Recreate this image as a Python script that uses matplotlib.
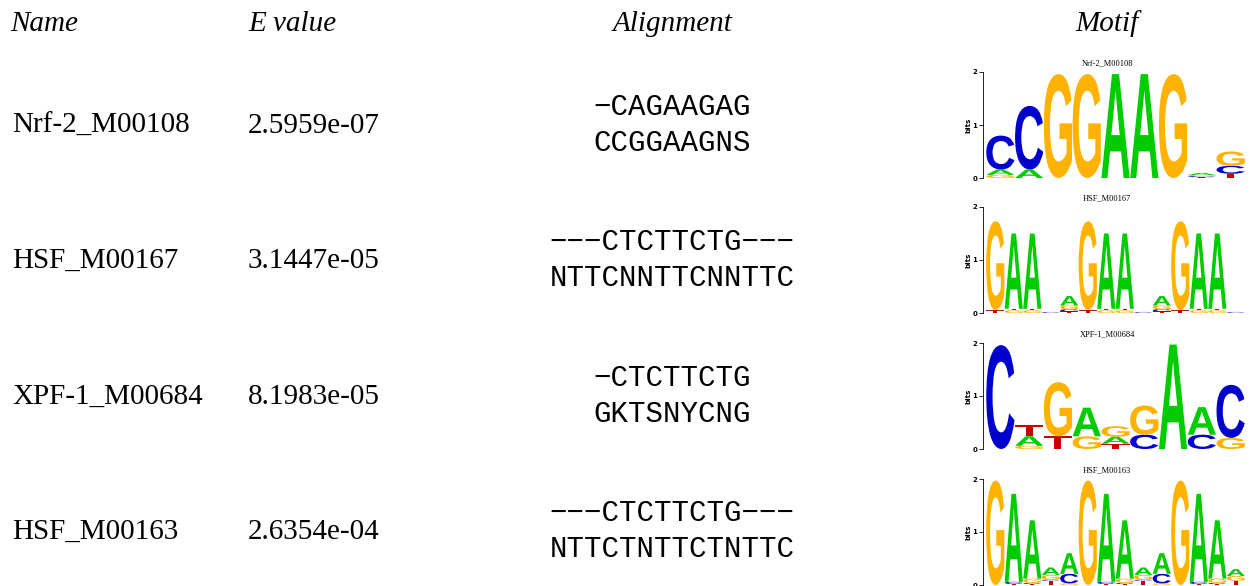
import matplotlib
matplotlib.use("Agg")
import matplotlib.pyplot as plt
from matplotlib.textpath import TextPath
from matplotlib.patches import PathPatch
from matplotlib.transforms import Affine2D
from matplotlib.font_manager import FontProperties

# table contents
headers = ["Name", "E value", "Alignment", "Motif"]
names = ["Nrf-2_M00108", "HSF_M00167", "XPF-1_M00684", "HSF_M00163"]
evalues = ["2.5959e-07", "3.1447e-05", "8.1983e-05", "2.6354e-04"]
query_aln = ["\u2212CAGAAGAG", "\u2212\u2212\u2212CTCTTCTG\u2212\u2212\u2212",
             "\u2212CTCTTCTG", "\u2212\u2212\u2212CTCTTCTG\u2212\u2212\u2212"]
target_aln = ["CCGGAAGNS", "NTTCNNTTCNNTTC", "GKTSNYCNG", "NTTCTNTTCTNTTC"]

# sequence logos: one list per position, letters bottom -> top with height in bits
nrf2_logo = [
    [("G", 0.06), ("A", 0.10), ("C", 0.64)],
    [("A", 0.16), ("C", 1.20)],
    [("G", 1.96)],
    [("G", 1.96)],
    [("A", 1.96)],
    [("A", 1.96)],
    [("G", 1.96)],
    [("T", 0.015), ("C", 0.02), ("G", 0.02), ("A", 0.04)],
    [("T", 0.08), ("C", 0.15), ("G", 0.27)],
]
hsf167_logo = [
    [("T", 0.05), ("A", 0.01), ("G", 1.67)],
    [("G", 0.05), ("T", 0.03), ("A", 1.42)],
    [("G", 0.05), ("T", 0.03), ("A", 1.42)],
    [("T", 0.005), ("C", 0.015)],
    [("T", 0.03), ("C", 0.04), ("G", 0.07), ("A", 0.18)],
    [("T", 0.05), ("A", 0.01), ("G", 1.67)],
    [("G", 0.05), ("T", 0.03), ("A", 1.42)],
    [("G", 0.05), ("T", 0.03), ("A", 1.42)],
    [("T", 0.005), ("C", 0.015)],
    [("T", 0.03), ("C", 0.04), ("G", 0.07), ("A", 0.18)],
    [("T", 0.05), ("A", 0.01), ("G", 1.67)],
    [("G", 0.05), ("T", 0.03), ("A", 1.42)],
    [("G", 0.05), ("T", 0.03), ("A", 1.42)],
    [("T", 0.005), ("C", 0.015)],
]
xpf1_logo = [
    [("C", 1.96)],
    [("G", 0.06), ("A", 0.18), ("T", 0.21)],
    [("T", 0.24), ("G", 1.02)],
    [("G", 0.24), ("A", 0.54)],
    [("T", 0.10), ("A", 0.13), ("G", 0.20)],
    [("C", 0.27), ("G", 0.55)],
    [("A", 1.97)],
    [("C", 0.27), ("A", 0.52)],
    [("G", 0.21), ("C", 1.00)],
]
hsf163_logo = [
    [("G", 1.97)],
    [("T", 0.02), ("C", 0.04), ("A", 1.66)],
    [("T", 0.02), ("C", 0.02), ("G", 0.08), ("A", 1.10)],
    [("T", 0.08), ("C", 0.02), ("G", 0.09), ("A", 0.14)],
    [("G", 0.03), ("C", 0.18), ("A", 0.39)],
    [("G", 1.97)],
    [("T", 0.02), ("C", 0.04), ("A", 1.66)],
    [("T", 0.02), ("C", 0.02), ("G", 0.08), ("A", 1.10)],
    [("T", 0.08), ("C", 0.02), ("G", 0.09), ("A", 0.14)],
    [("G", 0.03), ("C", 0.18), ("A", 0.39)],
    [("G", 1.97)],
    [("T", 0.02), ("C", 0.04), ("A", 1.66)],
    [("T", 0.02), ("C", 0.02), ("G", 0.08), ("A", 1.10)],
    [("T", 0.08), ("G", 0.09), ("A", 0.13)],
]
logos = [nrf2_logo, hsf167_logo, xpf1_logo, hsf163_logo]

base_colors = {"A": "#00cc00", "C": "#0000cc", "G": "#ffb300", "T": "#cc0000"}
letter_font = FontProperties(family="Liberation Sans", weight="bold")

W, H = 1255, 586
fig = plt.figure(figsize=(W / 100, H / 100), dpi=100)


def fx(px):
    return px / W


def fy(py):
    return 1 - py / H


def draw_letter(ax, ch, x0, y0, w, h):
    tp = TextPath((0, 0), ch, size=1, prop=letter_font)
    bb = tp.get_extents()
    t = Affine2D().translate(-bb.x0, -bb.y0).scale(w / bb.width, h / bb.height).translate(x0, y0)
    ax.add_patch(PathPatch(t.transform_path(tp), fc=base_colors[ch], ec="none", lw=0, clip_on=False))


serif = ["Liberation Serif", "DejaVu Serif"]
mono = ["Liberation Mono", "DejaVu Sans Mono"]

# header row
fig.text(fx(10), fy(31), headers[0], family=serif, style="italic", fontsize=21, va="baseline")
fig.text(fx(248), fy(31), headers[1], family=serif, style="italic", fontsize=21, va="baseline")
fig.text(fx(673), fy(31), headers[2], family=serif, style="italic", fontsize=21, va="baseline", ha="center")
fig.text(fx(1107), fy(31), headers[3], family=serif, style="italic", fontsize=21, va="baseline", ha="center")

line1 = [115, 250, 386, 521]
logo_top = [72, 207, 343, 479]

for i in range(4):
    b = line1[i]
    fig.text(fx(12), fy(b + 18), names[i], family=serif, fontsize=21, va="baseline")
    fig.text(fx(248), fy(b + 18), evalues[i], family=serif, fontsize=21, va="baseline")
    fig.text(fx(672), fy(b), query_aln[i], family=mono, fontsize=21, va="baseline", ha="center")
    fig.text(fx(672), fy(b + 36), target_aln[i], family=mono, fontsize=21, va="baseline", ha="center")

    # logo
    logo = logos[i]
    n = len(logo)
    top = logo_top[i]
    ax = fig.add_axes([fx(983), fy(top + 106), (1247 - 983) / W, 106 / H])
    ppu = 259 / n
    ax.set_xlim(-3 / ppu, n + 2 / ppu)
    ax.set_ylim(0, 2)
    for j, col in enumerate(logo):
        y = 0
        for ch, h in col:
            draw_letter(ax, ch, j + 0.01, y, 0.98, h)
            y += h
    for s in ["top", "right", "bottom"]:
        ax.spines[s].set_visible(False)
    ax.spines["left"].set_linewidth(0.6)
    ax.spines["left"].set_bounds(0, 2)
    ax.set_xticks([])
    ax.set_yticks([0, 1, 2])
    ax.tick_params(axis="y", length=3, width=0.6, pad=1, labelsize=5)
    for lab in ax.get_yticklabels():
        lab.set_fontweight("bold")
    ax.set_ylabel("bits", fontsize=5, fontweight="bold", labelpad=1)
    ax.patch.set_visible(False)
    fig.text(fx(1107), fy(top - 9), names[i], family=serif, fontsize=6, ha="center", va="center")

fig.savefig("out.png", dpi=100)
